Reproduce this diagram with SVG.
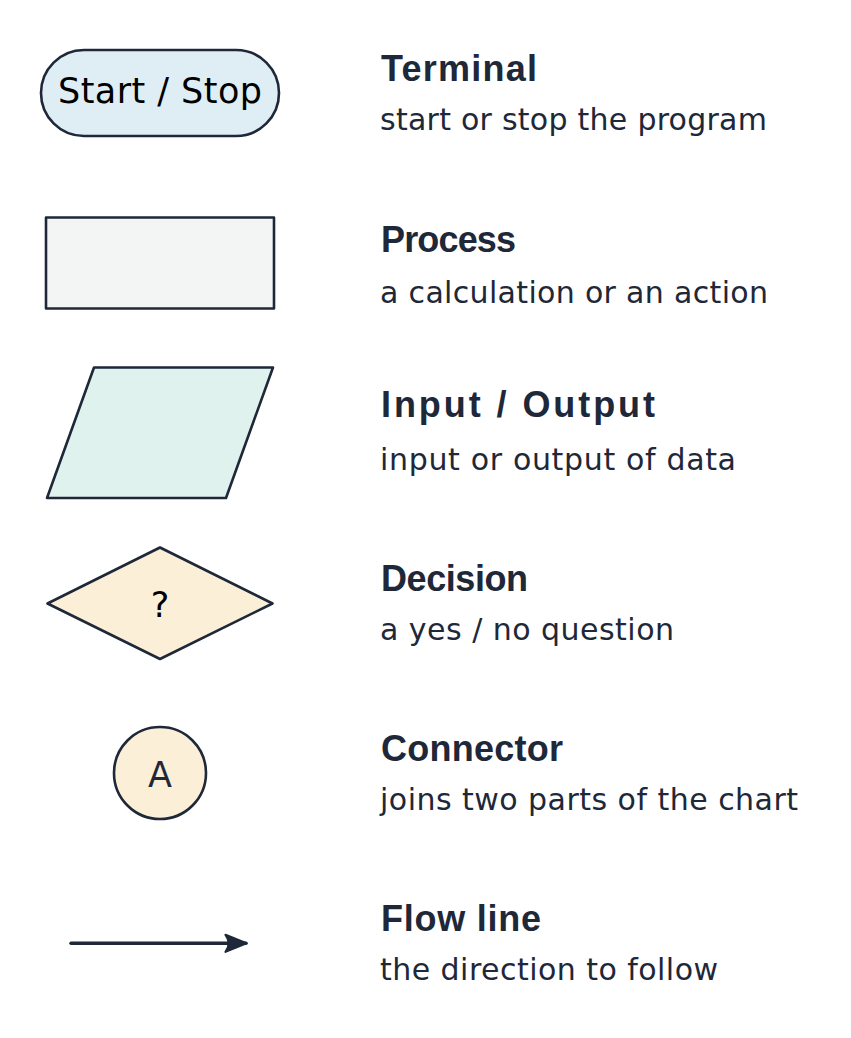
<svg xmlns="http://www.w3.org/2000/svg" width="851" height="1038" viewBox="0 0 851 1038">
<style>
.shape{stroke:#1e2838;stroke-width:2.6;stroke-linejoin:round}
.title{font-family:"Liberation Sans",Arial,sans-serif;font-weight:bold;font-size:36px;fill:#1e2838}
.desc{font-family:"DejaVu Sans",sans-serif;font-size:30px;fill:#1e2838}
.inner{font-family:"DejaVu Sans",sans-serif;font-size:35px;text-anchor:middle}
</style>
<defs>
<marker id="arrow" viewBox="0 0 26 22" refX="23" refY="11" markerWidth="26" markerHeight="22" markerUnits="userSpaceOnUse" orient="auto">
<path d="M23.5,11 L2.5,2.5 Q9,11 2.5,19.5 Z" fill="#1e2838" stroke="#1e2838" stroke-width="2.2" stroke-linejoin="round"/>
</marker>
</defs>
<rect width="851" height="1038" fill="#ffffff"/>
<g id="terminal">
<rect class="shape" x="41" y="50" width="238" height="86" rx="43" ry="43" fill="#dfeef5"/>
<text class="inner" x="160" y="103" fill="#000000" textLength="204" lengthAdjust="spacing">Start / Stop</text>
</g>
<g id="process">
<rect class="shape" x="46" y="217.5" width="228" height="91" fill="#f3f5f4"/>
</g>
<g id="io">
<polygon class="shape" points="94,367.5 273,367.5 226,498 47,498" fill="#e0f2ee"/>
</g>
<g id="decision">
<polygon class="shape" points="47.5,603.5 160,547.5 272.5,603.5 160,659" fill="#fbefd8"/>
<text class="inner" x="160" y="617" fill="#000000">?</text>
</g>
<g id="connector">
<circle class="shape" cx="160" cy="773" r="46" fill="#fbefd8"/>
<text class="inner" x="160" y="787" fill="#1e2838">A</text>
</g>
<g id="connectors">
<line x1="71" y1="943.3" x2="246" y2="943.3" stroke="#1e2838" stroke-width="3.4" stroke-linecap="round" marker-end="url(#arrow)"/>
</g>
<g id="labels">
<text class="title" x="381" y="81" textLength="156" lengthAdjust="spacing">Terminal</text>
<text class="desc" x="380" y="130" textLength="387" lengthAdjust="spacing">start or stop the program</text>
<text class="title" x="381" y="252" textLength="135" lengthAdjust="spacing">Process</text>
<text class="desc" x="380" y="303" textLength="388" lengthAdjust="spacing">a calculation or an action</text>
<text class="title" x="381" y="417" textLength="274" lengthAdjust="spacing">Input / Output</text>
<text class="desc" x="380" y="470" textLength="356" lengthAdjust="spacing">input or output of data</text>
<text class="title" x="381" y="591" textLength="147" lengthAdjust="spacing">Decision</text>
<text class="desc" x="380" y="640" textLength="294" lengthAdjust="spacing">a yes / no question</text>
<text class="title" x="381" y="761" textLength="182" lengthAdjust="spacing">Connector</text>
<text class="desc" x="380" y="810" textLength="418" lengthAdjust="spacing">joins two parts of the chart</text>
<text class="title" x="381" y="931" textLength="160" lengthAdjust="spacing">Flow line</text>
<text class="desc" x="380" y="980" textLength="338" lengthAdjust="spacing">the direction to follow</text>
</g>
</svg>
